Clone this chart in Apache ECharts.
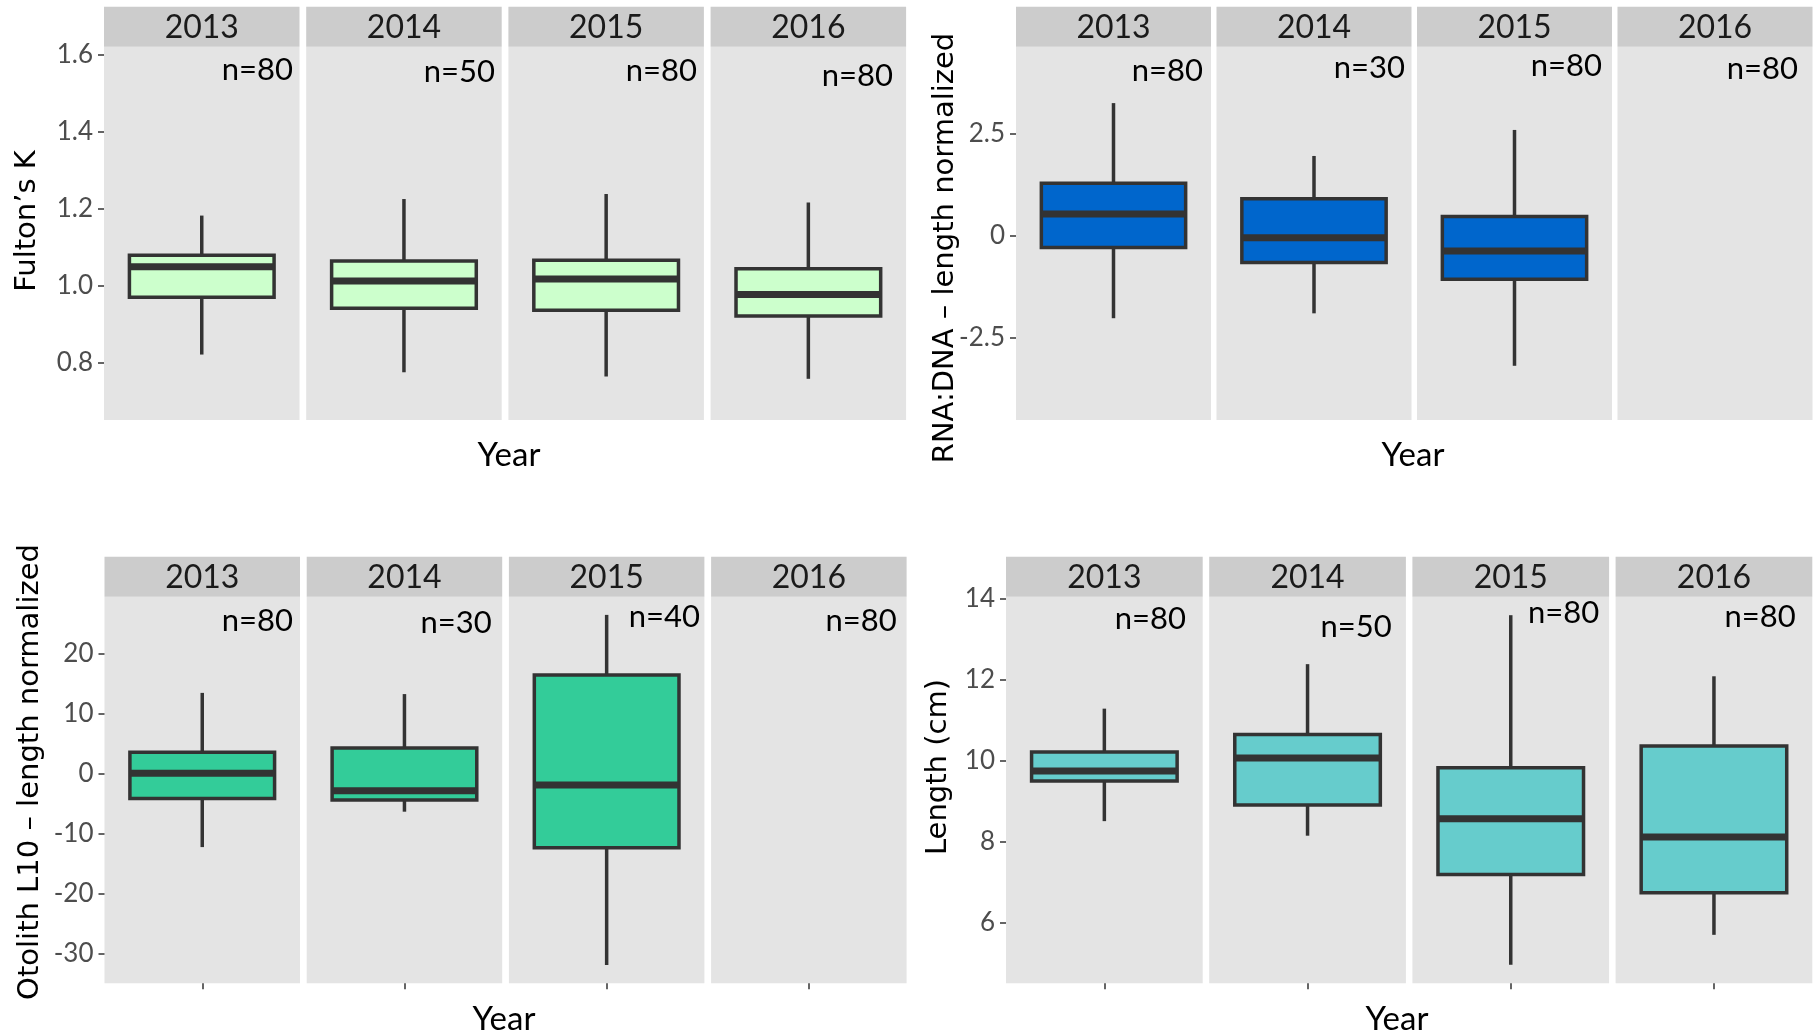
<!DOCTYPE html>
<html><head><meta charset="utf-8">
<script src="https://cdn.jsdelivr.net/npm/echarts@6/dist/echarts.min.js"></script>
<style>html,body{margin:0;padding:0;background:#fff;}#c{width:1819px;height:1035px;}</style>
</head><body><div id="c"></div>
<script>
// ---------- data ----------
const years = ['2013', '2014', '2015', '2016'];

const fultonLow  = [0.822, 0.776, 0.765, 0.759];
const fultonQ1   = [0.971, 0.942, 0.937, 0.922];
const fultonMed  = [1.050, 1.013, 1.018, 0.978];
const fultonQ3   = [1.080, 1.065, 1.067, 1.045];
const fultonHigh = [1.183, 1.226, 1.239, 1.217];
const fultonN    = [80, 50, 80, 80];
const fultonTicks = [0.8, 1.0, 1.2, 1.4, 1.6];

const rnaLow  = [-2.03, -1.91, -3.20, null];
const rnaQ1   = [-0.29, -0.66, -1.07, null];
const rnaMed  = [0.53, -0.05, -0.38, null];
const rnaQ3   = [1.29, 0.91, 0.47, null];
const rnaHigh = [3.26, 1.96, 2.60, null];
const rnaN    = [80, 30, 80, 80];
const rnaTicks = [-2.5, 0, 2.5];

const otoLow  = [-12.3, -6.4, -31.95, null];
const otoQ1   = [-4.2, -4.45, -12.4, null];
const otoMed  = [0.0, -2.9, -1.95, null];
const otoQ3   = [3.5, 4.2, 16.4, null];
const otoHigh = [13.4, 13.2, 26.4, null];
const otoN    = [80, 30, 40, 80];
const otoTicks = [-30, -20, -10, 0, 10, 20];

const lenLow  = [8.51, 8.15, 4.96, 5.70];
const lenQ1   = [9.50, 8.91, 7.19, 6.74];
const lenMed  = [9.75, 10.07, 8.57, 8.12];
const lenQ3   = [10.22, 10.65, 9.83, 10.37];
const lenHigh = [11.29, 12.39, 13.60, 12.09];
const lenN    = [80, 50, 80, 80];
const lenTicks = [6, 8, 10, 12, 14];

// ---------- layout / style ----------
const panels = [
  { title: 'Fulton’s K', low: fultonLow, q1: fultonQ1, med: fultonMed, q3: fultonQ3, high: fultonHigh, n: fultonN,
    ticks: fultonTicks, dec: 1, min: 0.652, max: 1.6217, color: '#ccffcc',
    left: 104, fw: 195.5, gap: 6.7, top: 46.7, bottom: 420, xTicks: false,
    tPos: [27.6, 221], yearPos: [509, 455],
    nPos: [[293, 70.3], [495, 72.2], [697, 71.2], [893, 75.5]] },
  { title: 'RNA:DNA – length normalized', low: rnaLow, q1: rnaQ1, med: rnaMed, q3: rnaQ3, high: rnaHigh, n: rnaN,
    ticks: rnaTicks, dec: -1, min: -4.533, max: 4.647, color: '#0066cc',
    left: 1016, fw: 195, gap: 5.5, top: 46.7, bottom: 420, xTicks: false,
    tPos: [945, 248], yearPos: [1413, 455],
    nPos: [[1203, 70.8], [1405, 68], [1602, 65.5], [1798, 68.8]] },
  { title: 'Otolith L10 – length normalized', low: otoLow, q1: otoQ1, med: otoMed, q3: otoQ3, high: otoHigh, n: otoN,
    ticks: otoTicks, dec: -1, min: -35.0, max: 29.43, color: '#33cc99',
    left: 104.5, fw: 195.5, gap: 6.7, top: 596.7, bottom: 983.3, xTicks: true,
    tPos: [30, 772], yearPos: [504, 1019.5],
    nPos: [[293, 620.8], [491.7, 622.5], [700, 617], [896.7, 621]] },
  { title: 'Length (cm)', low: lenLow, q1: lenQ1, med: lenMed, q3: lenQ3, high: lenHigh, n: lenN,
    ticks: lenTicks, dec: -1, min: 4.502, max: 14.057, color: '#66cccc',
    left: 1006, fw: 196.7, gap: 6.5, top: 596.7, bottom: 983.3, xTicks: true,
    tPos: [938, 767], yearPos: [1397, 1019.5],
    nPos: [[1186, 618.8], [1391.7, 627.2], [1599.3, 612.5], [1795.7, 617]] }
];

const LINE = '#333333';
const FONT = 'Lato, "Open Sans", sans-serif';
const TFONT = '"DejaVu Sans", sans-serif';

function makeRender(color) {
  return function (params, api) {
    const x = api.value(0);
    const pLo = api.coord([x, api.value(1)]);
    const pQ1 = api.coord([x, api.value(2)]);
    const pMd = api.coord([x, api.value(3)]);
    const pQ3 = api.coord([x, api.value(4)]);
    const pHi = api.coord([x, api.value(5)]);
    const w = api.size([1, 0])[0] * 0.74;
    const cx = pMd[0];
    const ls = { stroke: LINE, lineWidth: 3.5 };
    return {
      type: 'group',
      children: [
        { type: 'line', shape: { x1: cx, y1: pHi[1], x2: cx, y2: pQ3[1] }, style: ls },
        { type: 'line', shape: { x1: cx, y1: pQ1[1], x2: cx, y2: pLo[1] }, style: ls },
        { type: 'rect', shape: { x: cx - w / 2, y: pQ3[1], width: w, height: pQ1[1] - pQ3[1] },
          style: { fill: color, stroke: LINE, lineWidth: 3.5 } },
        { type: 'line', shape: { x1: cx - w / 2, y1: pMd[1], x2: cx + w / 2, y2: pMd[1] },
          style: { stroke: LINE, lineWidth: 7 } }
      ]
    };
  };
}

const grid = [], xAxis = [], yAxis = [], series = [], graphic = [];

panels.forEach((p, pi) => {
  for (let f = 0; f < 4; f++) {
    const idx = pi * 4 + f;
    const gl = p.left + f * (p.fw + p.gap);
    grid.push({ left: gl, top: p.top, width: p.fw, height: p.bottom - p.top,
      show: true, backgroundColor: '#e4e4e4', borderWidth: 0 });
    xAxis.push({ type: 'category', gridIndex: idx, data: [years[f]], boundaryGap: true, position: 'bottom',
      axisLine: { show: false, onZero: false }, axisLabel: { show: false },
      axisTick: { show: p.xTicks, alignWithLabel: true, length: 6, lineStyle: { color: LINE, width: 1.5 } },
      splitLine: { show: false } });
    yAxis.push({ type: 'value', gridIndex: idx, min: p.min, max: p.max,
      axisLine: { show: false, onZero: false }, splitLine: { show: false },
      axisTick: { show: f === 0, length: 6, customValues: p.ticks, lineStyle: { color: LINE, width: 1.5 } },
      axisLabel: { show: f === 0, customValues: p.ticks, margin: 11, color: '#4d4d4d',
        fontFamily: FONT, fontSize: 26,
        formatter: v => p.dec > 0 ? Number(v).toFixed(p.dec) : String(Math.round(v * 10) / 10) } });
    if (p.low[f] != null) {
      series.push({ type: 'custom', xAxisIndex: idx, yAxisIndex: idx,
        renderItem: makeRender(p.color),
        encode: { x: 0, y: [1, 2, 3, 4, 5] },
        data: [[0, p.low[f], p.q1[f], p.med[f], p.q3[f], p.high[f]]], z: 5 });
    }
    // strip
    graphic.push({ type: 'rect', shape: { x: gl, y: p.top - 40, width: p.fw, height: 40 },
      style: { fill: '#cccccc' }, z: 1 });
    graphic.push({ type: 'text', x: gl + p.fw / 2, y: p.top - 19,
      style: { text: years[f], fill: '#1a1a1a', font: '32px ' + FONT, align: 'center', verticalAlign: 'middle' }, z: 2 });
    // n label
    graphic.push({ type: 'text', x: p.nPos[f][0], y: p.nPos[f][1],
      style: { text: 'n=' + p.n[f], fill: '#000', font: '31px ' + FONT, align: 'right', verticalAlign: 'middle' }, z: 10 });
  }
  graphic.push({ type: 'text', x: p.tPos[0], y: p.tPos[1], rotation: Math.PI / 2,
    style: { text: p.title, fill: '#000', font: '29px ' + TFONT, align: 'center', verticalAlign: 'middle' } });
  graphic.push({ type: 'text', x: p.yearPos[0], y: p.yearPos[1],
    style: { text: 'Year', fill: '#000', font: '33px ' + FONT, align: 'center', verticalAlign: 'middle' } });
});

const chart = echarts.init(document.getElementById('c'), null, { renderer: 'canvas' });
chart.setOption({ animation: false, backgroundColor: '#ffffff', grid, xAxis, yAxis, series, graphic });
</script></body></html>
